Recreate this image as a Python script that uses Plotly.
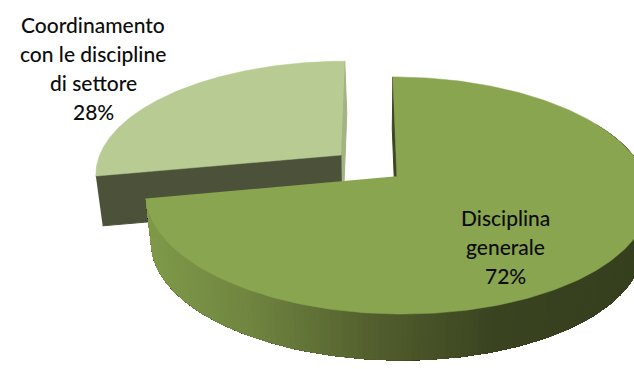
import numpy as np
import plotly.graph_objects as go

# Share of each topic, in percent
categories = ["Disciplina generale", "Coordinamento con le discipline di settore"]
values = [72, 28]
label_lines = [["Disciplina", "generale"], ["Coordinamento", "con le discipline", "di settore"]]

WIDTH, HEIGHT = 634, 369
TOP_COLORS = ["#8aa550", "#b7cb93"]
CUT_COLOR_SMALL = "#4c5139"
SLIVER_COLORS = ["#3c4522", "#a3b382"]

# Camera of the tilted pie
CX, CY = 368.5, 165.5
RX, RY = 245.0, 112.0
PERSPECTIVE = 0.16
EXPLODE = 0.148
DEPTH = 50.0
DEPTH_SCALE = 0.975


def project(px, pv, lower=False):
    denom = 1 - PERSPECTIVE * pv
    x = RX * px / denom
    y = RY * pv / denom
    if lower:
        return CX + x * DEPTH_SCALE, CY + y * DEPTH_SCALE + DEPTH
    return CX + x, CY + y


def slice_geometry(start, stop):
    """Apex offset and rim points of a slice, angles clockwise from 12 o'clock."""
    mid = (start + stop) / 2
    ax, av = EXPLODE * np.sin(mid), -EXPLODE * np.cos(mid)
    theta = np.linspace(start, stop, 240)
    return ax, av, ax + np.sin(theta), av - np.cos(theta), theta


def polygon(fig, xs, ys, color, line=1.0):
    fig.add_trace(go.Scatter(
        x=list(xs), y=list(ys), mode="lines", fill="toself", fillcolor=color,
        line=dict(color=color, width=line), hoverinfo="skip", showlegend=False,
    ))


def rim_color(x):
    stops_x = [145, 250, 390, 500, 634]
    stops_rgb = np.array([[127, 154, 73], [112, 133, 64], [79, 91, 44], [58, 67, 32], [54, 63, 30]])
    r, g, b = (np.interp(x, stops_x, stops_rgb[:, i]) for i in range(3))
    return f"rgb({r:.0f},{g:.0f},{b:.0f})"


fig = go.Figure()

total = sum(values)
main_sweep = 2 * np.pi * values[0] / total

# Small slice first, it sits behind the large one
ax, av, px, pv, _ = slice_geometry(main_sweep, 2 * np.pi)
apex_t = project(ax, av)
apex_b = project(ax, av, lower=True)
left_t = project(px[0], pv[0])
left_b = project(px[0], pv[0], lower=True)
end_t = project(px[-1], pv[-1])
end_b = project(px[-1], pv[-1], lower=True)
polygon(fig, [apex_t[0], end_t[0], end_b[0] + 1.5, apex_b[0] + 1.5],
        [apex_t[1], end_t[1], end_b[1], apex_b[1]], SLIVER_COLORS[1])
polygon(fig, [left_t[0], apex_t[0], apex_b[0], left_b[0]],
        [left_t[1], apex_t[1], apex_b[1], left_b[1]], CUT_COLOR_SMALL)
tx, ty = project(px, pv)
polygon(fig, [apex_t[0], *tx], [apex_t[1], *ty], TOP_COLORS[1], line=0.5)

# Large slice: inner cut, curved wall shaded by position, then the top
ax, av, px, pv, theta = slice_geometry(0, main_sweep)
apex_t = project(ax, av)
apex_b = project(ax, av, lower=True)
start_t = project(px[0], pv[0])
start_b = project(px[0], pv[0], lower=True)
polygon(fig, [apex_t[0], start_t[0], start_b[0], apex_b[0]],
        [apex_t[1], start_t[1], start_b[1], apex_b[1]], SLIVER_COLORS[0], line=1.0)

tx, ty = project(px, pv)
bx, by = project(px, pv, lower=True)
# Wall drawn right to left as overlapping bands, so no seams show between shades
front = np.where(theta >= np.pi / 3)[0]
for i in front:
    xs = [*tx[i:], *bx[i:][::-1]]
    ys = [*ty[i:], *by[i:][::-1]]
    polygon(fig, xs, ys, rim_color(tx[i]), line=0)
polygon(fig, [apex_t[0], *tx], [apex_t[1], *ty], TOP_COLORS[0], line=0.5)


def add_label(lines, value, x, first_y, step=29.3):
    for n, text in enumerate([*lines, f"{value}%"]):
        fig.add_annotation(
            x=x, y=first_y + n * step, text=text, showarrow=False,
            xanchor="center", yanchor="middle",
            font=dict(family="Lato", size=21, color="#0d0d0d", weight=500),
        )


add_label(label_lines[0], values[0], 505, 217)
add_label(label_lines[1], values[1], 93, 24)

fig.update_layout(
    width=WIDTH, height=HEIGHT, margin=dict(l=0, r=0, t=0, b=0),
    paper_bgcolor="white", plot_bgcolor="white", showlegend=False,
    xaxis=dict(range=[0, WIDTH], visible=False, fixedrange=True),
    yaxis=dict(range=[HEIGHT, 0], visible=False, fixedrange=True),
)
fig.write_html("out.html", config={"displayModeBar": False})
